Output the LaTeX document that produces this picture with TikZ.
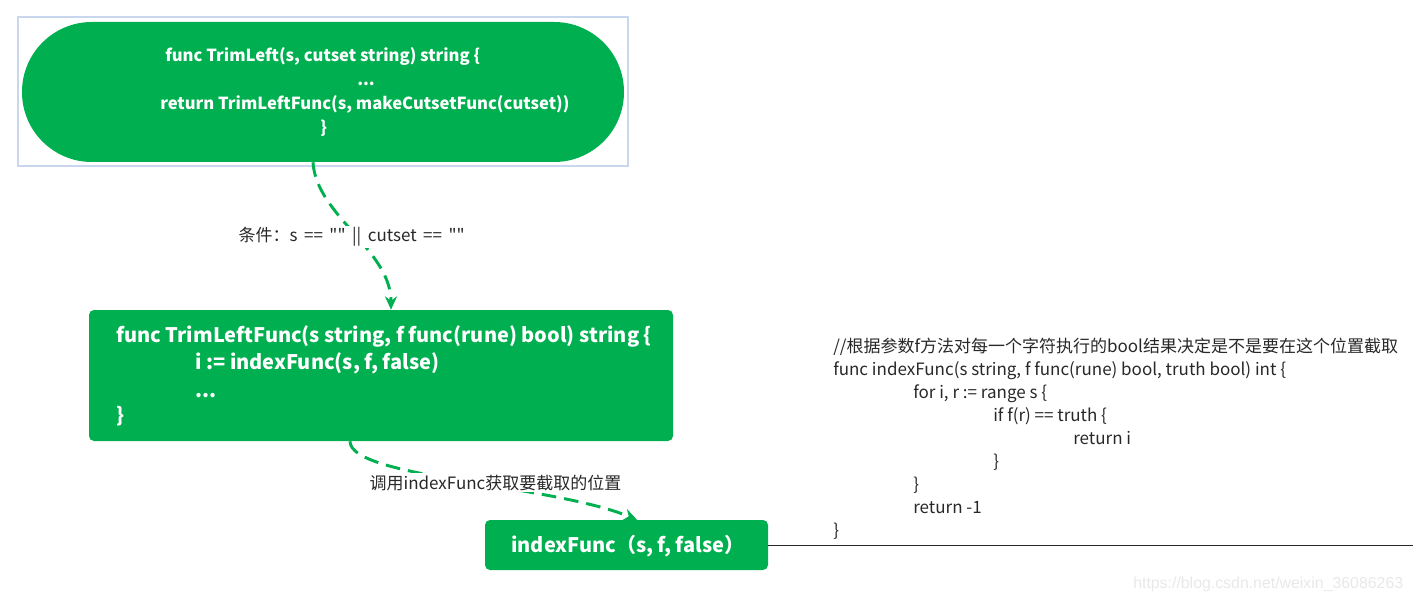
\documentclass[tikz,border=0pt]{standalone}
\usepackage{fontspec}
\setmainfont{Noto Sans CJK SC}[Ligatures=TeXOff]
\newfontfamily\wmfont{Liberation Sans}
\usetikzlibrary{arrows.meta}
\definecolor{bgreen}{RGB}{0,176,80}
\definecolor{frameblue}{RGB}{200,215,238}
\definecolor{txtdark}{RGB}{40,40,40}
\definecolor{wmgray}{RGB}{232,232,232}
\tikzset{
  greenbox/.style={fill=bgreen, draw=none, inner sep=0pt},
  wtext/.style={text=white, inner sep=0pt, anchor=base west},
  stext/.style={wtext, font=\fontsize{12.45pt}{15pt}\selectfont\bfseries},
  btext/.style={wtext, font=\fontsize{15pt}{18pt}\selectfont\bfseries},
  ctext/.style={text=txtdark, font=\fontsize{12.75pt}{15pt}\selectfont, inner sep=0pt, anchor=base west},
  conn/.style={draw=bgreen, line width=2.2pt, dash pattern=on 11pt off 6pt, -{Stealth[length=10pt,width=9pt]}},
  lbl/.style={text=txtdark, font=\fontsize{12.75pt}{15pt}\selectfont, fill=white, inner sep=1pt, anchor=base west}
}
\begin{document}
\begin{tikzpicture}[x=0.75pt,y=-0.75pt]
\useasboundingbox (0,0) rectangle (1413,602);
% top frame and stadium
\node[draw=frameblue, line width=1.5pt, minimum width=457.5pt, minimum height=111.75pt, inner sep=0pt] (frame) at (323,91.5) {};
\node[greenbox, rounded corners=52.4pt, minimum width=451.5pt, minimum height=105pt] (s1) at (323,92) {};
\node[stext] (s1a) at (165,62) {func TrimLeft(s, cutset string) string \{};
\node[stext] (s1b) at (357,86) {...};
\node[stext] (s1c) at (160,110) {return TrimLeftFunc(s, makeCutsetFunc(cutset))};
\node[stext] (s1d) at (320,134) {\}};
% box 2
\node[greenbox, rounded corners=3.75pt, minimum width=438pt, minimum height=98.25pt] (b2) at (381,375.5) {};
\node[btext] (b2a) at (116,342) {func TrimLeftFunc(s string, f func(rune) bool) string \{};
\node[btext] (b2b) at (195,369) {i := indexFunc(s, f, false)};
\node[btext] (b2c) at (195,397) {...};
\node[btext] (b2d) at (116,422) {\}};
% box 3
\node[greenbox, rounded corners=3.75pt, minimum width=212.25pt, minimum height=37.5pt] (b3) at (626.5,545) {};
\node[btext] (b3t) at (511,552) {indexFunc（s, f, false）};
% line to the right
\coordinate (lineend) at (1413,545);
\draw[txtdark, line width=0.75pt] (b3.east) -- (lineend);
% connectors
\draw[conn] ([xshift=-7.5pt]s1.south) .. controls (316,215) and (391,250) .. ([xshift=7.5pt]b2.north);
\draw[conn] ([xshift=-23.25pt]b2.south) .. controls (350,478) and (550,484) .. ([xshift=7.9pt]b3.north);
% labels
\node[lbl] (l1) at (237,242) {\spaceskip=4.9pt\relax 条件：s == "" || cutset == ""};
\node[lbl] (l2) at (368,489) {调用indexFunc获取要截取的位置};
% code block
\node[ctext] (c1) at (833,352) {//根据参数f方法对每一个字符执行的bool结果决定是不是要在这个位置截取};
\node[ctext] (c2) at (833,375) {func indexFunc(s string, f func(rune) bool, truth bool) int \{};
\node[ctext] (c3) at (913,398) {for i, r := range s \{};
\node[ctext] (c4) at (993,421) {if f(r) == truth \{};
\node[ctext] (c5) at (1073,444) {return i};
\node[ctext] (c6) at (993,467) {\}};
\node[ctext] (c7) at (913,490) {\}};
\node[ctext] (c8) at (913,513) {return -1};
\node[ctext] (c9) at (833,536) {\}};
% watermark
\node[anchor=base west, inner sep=0pt, text=wmgray, font=\wmfont\fontsize{11.9pt}{14pt}\selectfont] (wm) at (1133,588) {https://blog.csdn.net/weixin\_36086263};
\end{tikzpicture}
\end{document}
